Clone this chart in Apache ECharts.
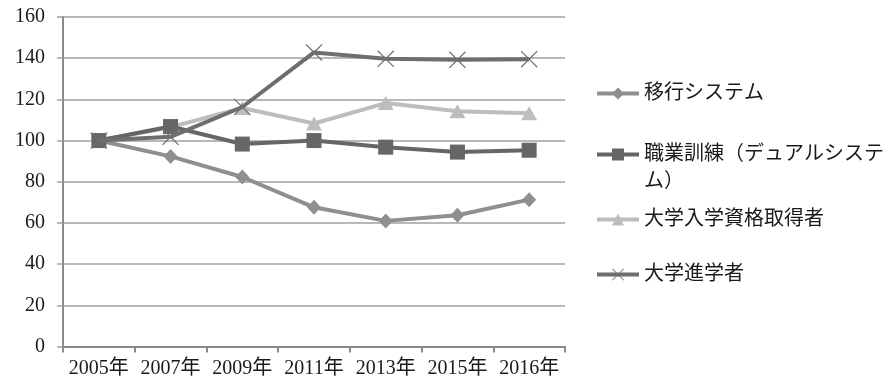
<!DOCTYPE html>
<html>
<head>
<meta charset="utf-8">
<script src="https://cdn.jsdelivr.net/npm/echarts@6/dist/echarts.min.js"></script>
<style>
html,body{margin:0;padding:0;background:#fff;}
#chart{width:892px;height:386px;}
</style>
</head>
<body>
<div id="chart"></div>
<script>
const categories = ['2005年','2007年','2009年','2011年','2013年','2015年','2016年'];
const seriesNames = ['移行システム','職業訓練（デュアルシステム）','大学入学資格取得者','大学進学者'];
const transitionSystem = [100, 92.3, 82.3, 67.6, 61, 63.7, 71.3];
const dualSystem = [100, 106.8, 98.3, 100, 96.8, 94.4, 95.3];
const universityEntrance = [100, 106.5, 115.8, 108.3, 118.2, 114.2, 113.3];
const universityEnrollment = [100, 101.8, 116.3, 142.8, 139.7, 139.2, 139.5];
const yTicks = {min: 0, max: 160, interval: 20};

const FONT = "'Liberation Serif','Noto Sans CJK JP',serif";
const colors = ['#8f8f8f', '#666666', '#bdbdbd', '#6e6e6e'];
const crossPath = 'path://M0,1L1,0L10,9L19,0L20,1L11,10L20,19L19,20L10,11L1,20L0,19L9,10Z';

const chart = echarts.init(document.getElementById('chart'), null, {renderer: 'canvas'});

function mkLegend(name, top, extra) {
  return Object.assign({
    orient: 'vertical',
    left: 590,
    top: top,
    itemWidth: 42,
    itemHeight: 15,
    selectedMode: false,
    data: [name],
    lineStyle: {width: 4},
    textStyle: {fontFamily: FONT, fontSize: 20, color: '#1a1a1a', lineHeight: 27}
  }, extra || {});
}

const option = {
  backgroundColor: '#fff',
  animation: false,
  textStyle: {fontFamily: FONT},
  grid: {left: 63, right: 327, top: 17, bottom: 39.5, containLabel: false},
  legend: [
    mkLegend(seriesNames[0], 75),
    mkLegend(seriesNames[1], 109, {
      formatter: function () { return ' \n職業訓練（デュアルシステ\nム）'; }
    }),
    mkLegend(seriesNames[2], 201),
    mkLegend(seriesNames[3], 256)
  ],
  xAxis: {
    type: 'category',
    data: categories,
    boundaryGap: true,
    axisLine: {lineStyle: {color: '#8a8a8a', width: 2}},
    axisTick: {show: true, length: 6, interval: 0, lineStyle: {color: '#8a8a8a', width: 2}},
    axisLabel: {fontFamily: FONT, fontSize: 20, color: '#1a1a1a', margin: 12, interval: 0}
  },
  yAxis: {
    type: 'value',
    min: yTicks.min,
    max: yTicks.max,
    interval: yTicks.interval,
    axisLine: {show: true, lineStyle: {color: '#8a8a8a', width: 2}},
    axisTick: {show: true, length: 6, lineStyle: {color: '#a0a0a0', width: 1.5}},
    axisLabel: {fontFamily: FONT, fontSize: 20, color: '#1a1a1a', margin: 18},
    splitLine: {show: true, lineStyle: {color: '#a0a0a0', width: 1.5}}
  },
  series: [
    {
      name: seriesNames[0], type: 'line', data: transitionSystem,
      symbol: 'diamond', symbolSize: [14, 15],
      lineStyle: {color: colors[0], width: 4},
      itemStyle: {color: colors[0]}, z: 4
    },
    {
      name: seriesNames[1], type: 'line', data: dualSystem,
      symbol: 'rect', symbolSize: 15,
      lineStyle: {color: colors[1], width: 4},
      itemStyle: {color: colors[1]}, z: 5
    },
    {
      name: seriesNames[2], type: 'line', data: universityEntrance,
      symbol: 'triangle', symbolSize: [16, 14],
      lineStyle: {color: colors[2], width: 4},
      itemStyle: {color: colors[2]}, z: 3
    },
    {
      name: seriesNames[3], type: 'line', data: universityEnrollment,
      symbol: crossPath, symbolSize: 17,
      lineStyle: {color: colors[3], width: 4},
      itemStyle: {color: colors[3]}, z: 6
    }
  ]
};
chart.setOption(option);
</script>
</body>
</html>
